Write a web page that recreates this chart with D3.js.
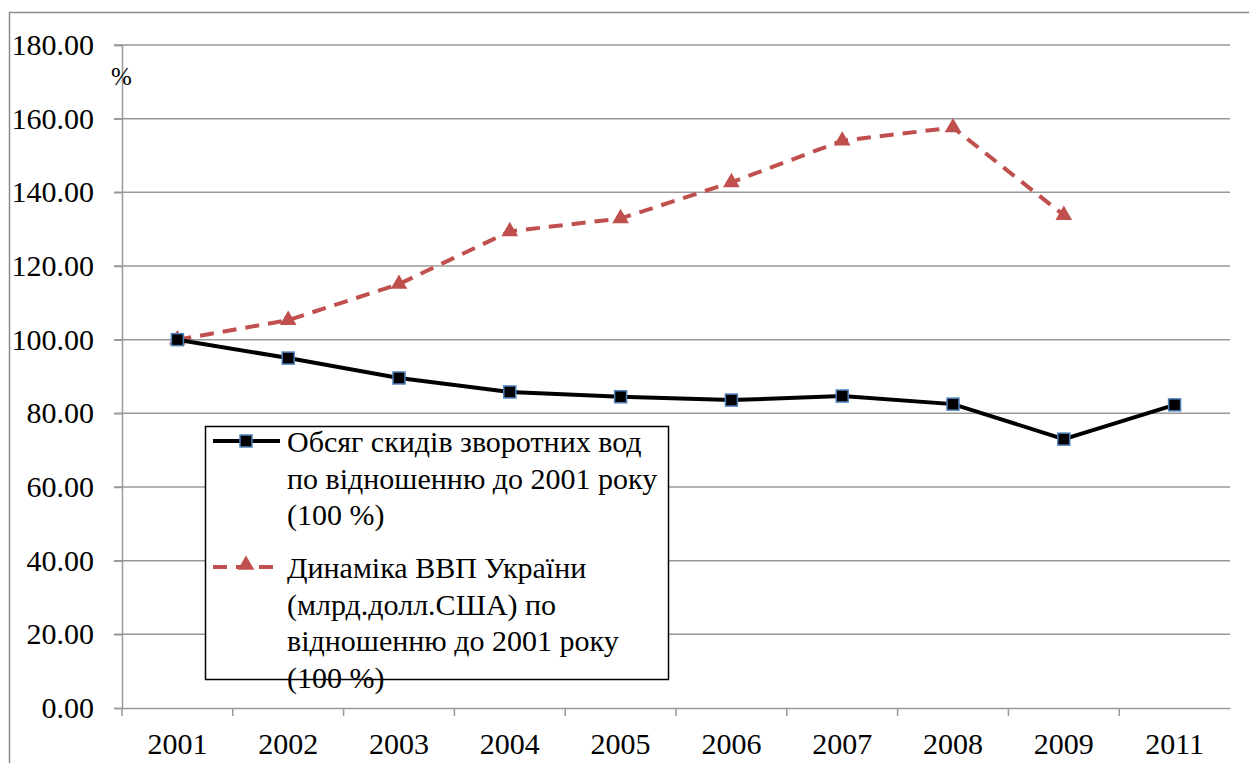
<!DOCTYPE html>
<html lang="uk">
<head>
<meta charset="UTF-8">
<title>Обсяг скидів зворотних вод та динаміка ВВП</title>
<script src="https://d3js.org/d3.v7.min.js"></script>
<style>
    body {
        margin: 0;
        background: #fff;
    }
    svg text {
        font-family: "Liberation Serif", "Times New Roman", Tinos, "DejaVu Serif", "Noto Serif", serif;
        fill: #000;
    }
    .grid line {
        stroke: #999;
        stroke-width: 1.5;
    }
</style>
</head>
<body>
<div id="chart"></div>
<script>
    // data
    const years = ["2001", "2002", "2003", "2004", "2005", "2006", "2007", "2008", "2009", "2011"];
    const wasteWater = [100, 95.0, 89.6, 85.8, 84.5, 83.6, 84.7, 82.5, 73.0, 82.3];
    const gdp = [100, 105.3, 115.1, 129.4, 132.9, 142.7, 154.0, 157.6, 133.8, null];
    const yTicks = [0, 20, 40, 60, 80, 100, 120, 140, 160, 180];
    const legendWater = ["Обсяг скидів зворотних вод", "по відношенню до 2001 року", "(100 %)"];
    const legendGdp = ["Динаміка ВВП України", "(млрд.долл.США) по", "відношенню до 2001 року", "(100 %)"];

    const serif = "'Liberation Serif', 'Times New Roman', Tinos, 'DejaVu Serif', serif";
    const fs = 30;

    const W = 1249, H = 763;
    const margin = { top: 45, right: 19, bottom: 55, left: 122 };
    const width = W - margin.left - margin.right,
          height = H - margin.top - margin.bottom;

    const svg = d3.select("#chart")
        .append("svg")
        .attr("width", W)
        .attr("height", H)
        .style("font-family", serif);

    // outer frame of the chart area
    svg.append("rect")
        .attr("x", 9.5).attr("y", 12.5)
        .attr("width", W + 10).attr("height", H + 10)
        .attr("fill", "none")
        .attr("stroke", "#8c8c8c")
        .attr("stroke-width", 1.5);

    const g = svg.append("g")
        .attr("transform", `translate(${margin.left},${margin.top})`);

    const x = d3.scaleBand().domain(years).range([0, width]);
    const y = d3.scaleLinear().domain([0, 180]).range([height, 0]);

    // horizontal gridlines
    g.append("g")
        .attr("class", "grid")
        .selectAll("line")
        .data(yTicks.filter(d => d > 0))
        .join("line")
        .attr("x1", -8).attr("x2", width)
        .attr("y1", d => y(d)).attr("y2", d => y(d));

    // Y axis
    const yAxis = g.append("g")
        .call(d3.axisLeft(y).tickValues(yTicks).tickFormat(d3.format(".2f")).tickSize(8).tickPadding(20))
        .attr("font-family", null);
    yAxis.select(".domain").attr("stroke", "#999").attr("stroke-width", 1.5);
    yAxis.selectAll(".tick line").attr("stroke", "#999").attr("stroke-width", 1.5);
    yAxis.selectAll(".tick text").attr("font-size", fs).attr("fill", "#000")
        .style("font-family", serif);

    // X axis
    const xAxis = g.append("g")
        .attr("transform", `translate(0,${height})`)
        .call(d3.axisBottom(x).tickSize(0).tickPadding(25))
        .attr("font-family", null);
    xAxis.select(".domain").attr("stroke", "#999").attr("stroke-width", 1.5);
    xAxis.selectAll(".tick text").attr("font-size", fs).attr("fill", "#000")
        .style("font-family", serif);
    // ticks between categories
    xAxis.selectAll(".sep")
        .data(years)
        .join("line")
        .attr("class", "sep")
        .attr("x1", d => x(d)).attr("x2", d => x(d))
        .attr("y1", 0).attr("y2", 8)
        .attr("stroke", "#999").attr("stroke-width", 1.5);

    // % unit label
    g.append("text")
        .attr("x", -11).attr("y", 40)
        .attr("font-size", 25)
        .text("%");

    const cx = d => x(d) + x.bandwidth() / 2;

    // GDP line (red dashed)
    const gdpPts = years.map((yr, i) => [yr, gdp[i]]).filter(d => d[1] != null);
    g.append("path")
        .datum(gdpPts)
        .attr("fill", "none")
        .attr("stroke", "#c0504d")
        .attr("stroke-width", 4)
        .attr("stroke-dasharray", "14,9")
        .attr("d", d3.line().x(d => cx(d[0])).y(d => y(d[1])));

    const tri = d3.symbol().type(d3.symbolTriangle).size(120);
    g.selectAll(".tri")
        .data(gdpPts)
        .join("path")
        .attr("class", "tri")
        .attr("d", tri)
        .attr("transform", d => `translate(${cx(d[0])},${y(d[1])})`)
        .attr("fill", "#c0504d");

    // waste water line (black solid)
    const wPts = years.map((yr, i) => [yr, wasteWater[i]]);
    g.append("path")
        .datum(wPts)
        .attr("fill", "none")
        .attr("stroke", "#000")
        .attr("stroke-width", 4)
        .attr("d", d3.line().x(d => cx(d[0])).y(d => y(d[1])));

    g.selectAll(".sq")
        .data(wPts)
        .join("rect")
        .attr("class", "sq")
        .attr("x", d => cx(d[0]) - 6)
        .attr("y", d => y(d[1]) - 6)
        .attr("width", 12).attr("height", 12)
        .attr("fill", "#000")
        .attr("stroke", "#4f81bd")
        .attr("stroke-width", 1.5);

    // legend
    const lg = svg.append("g");
    lg.append("rect")
        .attr("x", 205.5).attr("y", 426.5)
        .attr("width", 463).attr("height", 253)
        .attr("fill", "#fff")
        .attr("stroke", "#000")
        .attr("stroke-width", 1.5);

    // legend entry 1
    lg.append("line")
        .attr("x1", 213).attr("x2", 280).attr("y1", 441).attr("y2", 441)
        .attr("stroke", "#000").attr("stroke-width", 4);
    lg.append("rect")
        .attr("x", 240).attr("y", 435).attr("width", 12).attr("height", 12)
        .attr("fill", "#000").attr("stroke", "#4f81bd").attr("stroke-width", 1.5);
    lg.append("text")
        .attr("font-size", fs)
        .selectAll("tspan")
        .data(legendWater)
        .join("tspan")
        .attr("x", 287)
        .attr("y", (d, i) => 452 + i * 36.5)
        .text(d => d);

    // legend entry 2
    lg.append("line")
        .attr("x1", 213).attr("x2", 280).attr("y1", 567).attr("y2", 567)
        .attr("stroke", "#c0504d").attr("stroke-width", 4)
        .attr("stroke-dasharray", "14,9");
    lg.append("path")
        .attr("d", tri)
        .attr("transform", "translate(246,565)")
        .attr("fill", "#c0504d");
    lg.append("text")
        .attr("font-size", fs)
        .selectAll("tspan")
        .data(legendGdp)
        .join("tspan")
        .attr("x", 287)
        .attr("y", (d, i) => 578 + i * 36.5)
        .text(d => d);
</script>
</body>
</html>
